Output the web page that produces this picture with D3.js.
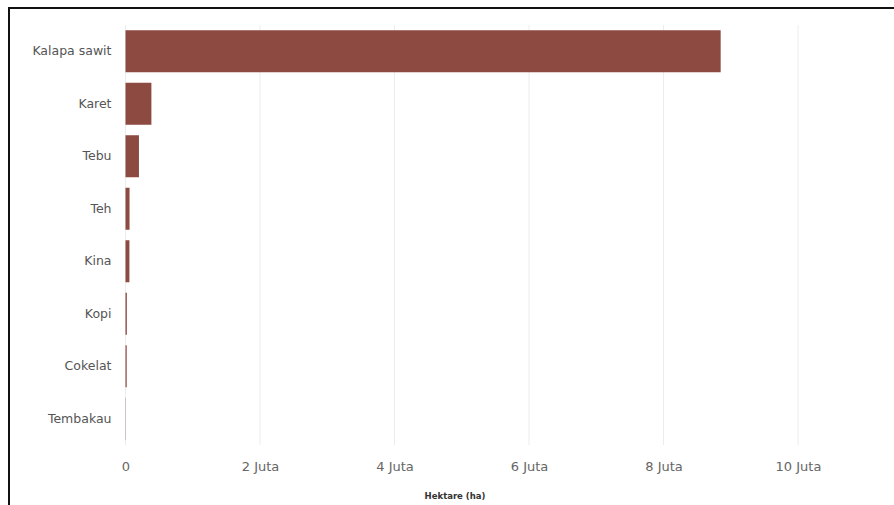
<!DOCTYPE html>
<html>
<head>
<meta charset="utf-8">
<script src="https://cdn.jsdelivr.net/npm/d3@7"></script>
<style>
	body { margin: 0; background: #fff; }
	svg text { font-family: 'DejaVu Sans', Verdana, sans-serif; }
	.y.axis text { fill: #555; font-size: 12.5px; }
	.x.axis text { fill: #666; font-size: 13px; }
	.axis path { display: none; }
	.grid line { stroke: #ececec; stroke-width: 1; }
	.axis-label { fill: #333; font-size: 8.5px; font-weight: bold; text-anchor: middle; }
</style>
</head>
<body>
<div id="chart"></div>
<script>
	// luas areal perkebunan (hektare)
	const crops = ['Kalapa sawit', 'Karet', 'Tebu', 'Teh', 'Kina', 'Kopi', 'Cokelat', 'Tembakau'];
	const areas = [8850000, 385000, 200000, 60000, 58000, 20000, 18000, 4000];
	const tickValues = [0, 2e6, 4e6, 6e6, 8e6, 10e6];
	const tickLabels = ['0', '2 Juta', '4 Juta', '6 Juta', '8 Juta', '10 Juta'];

	const data = crops.map((name, i) => ({ name, value: areas[i] }));

	const width = 894;
	const height = 505;
	const margin = { top: 25, right: 26, bottom: 60, left: 125.5 };
	const innerH = height - margin.top - margin.bottom;

	const svg = d3.select('#chart').append('svg')
		.attr('width', width)
		.attr('height', height);

	// frame of the screenshot
	svg.append('rect')
		.attr('x', 9)
		.attr('y', 8)
		.attr('width', width + 10)
		.attr('height', height + 10)
		.attr('fill', 'none')
		.attr('stroke', '#111')
		.attr('stroke-width', 2);

	const chart = svg.append('g')
		.attr('transform', `translate(${margin.left}, ${margin.top})`);

	const x = d3.scaleLinear()
		.domain([0, 10e6])
		.range([0, 672.5]);
	const y = d3.scaleBand()
		.domain(crops)
		.range([0, innerH])
		.paddingInner(0.2)
		.paddingOuter(0.1);

	// grid lines
	chart.append('g')
		.attr('class', 'grid')
		.selectAll('line')
		.data(tickValues)
		.enter().append('line')
			.attr('x1', d => x(d))
			.attr('x2', d => x(d))
			.attr('y1', 0)
			.attr('y2', innerH);

	chart.selectAll('.bar')
		.data(data)
		.enter().append('rect')
			.attr('class', 'bar')
			.attr('x', x(0))
			.attr('y', d => y(d.name))
			.attr('width', d => x(d.value) - x(0))
			.attr('height', y.bandwidth())
			.style('fill', '#8c4a40');

	const xAxis = d3.axisBottom(x)
		.tickValues(tickValues)
		.tickFormat((d, i) => tickLabels[i])
		.tickSize(0)
		.tickPadding(17);
	const yAxis = d3.axisLeft(y)
		.tickSize(0)
		.tickPadding(14);

	chart.append('g')
		.attr('class', 'x axis')
		.attr('transform', `translate(0, ${innerH})`)
		.call(xAxis)
		.attr('font-family', null);
	chart.append('g')
		.attr('class', 'y axis')
		.call(yAxis)
		.attr('font-family', null);

	chart.append('text')
		.attr('class', 'axis-label')
		.attr('x', 455 - margin.left)
		.attr('y', innerH + 54)
		.text('Hektare (ha)');
</script>
</body>
</html>
